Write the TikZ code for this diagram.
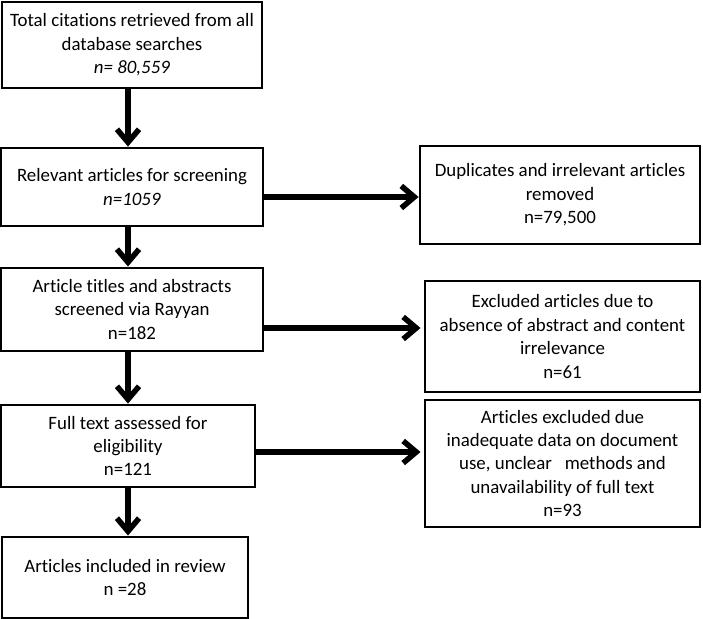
\documentclass[tikz,border=0pt]{standalone}
\usepackage{fontspec}
\setmainfont[Ligatures=NoCommon]{Carlito}
\usetikzlibrary{arrows.meta, positioning, calc}

\begin{document}
\begin{tikzpicture}[x=0.035cm, y=-0.035cm, >={Straight Barb[length=13pt,width=22pt]},
    box/.style={draw, line width=2.8pt, align=center, inner sep=0pt, font=\fontsize{18.8}{23.3}\selectfont},
    flow/.style={->, line width=5.5pt}]
    \useasboundingbox (0,0) rectangle (703,619);

    % left column
    \node[box, minimum width=9.10cm, minimum height=3.01cm] (tot) at (132,45)
        {Total citations retrieved from all\\ database searches\\ \textit{n= 80,559}};
    \node[box, minimum width=9.17cm, minimum height=2.73cm] (rel) at (132,187)
        {Relevant articles for screening\\ \textit{n=1059}};
    \node[box, minimum width=9.17cm, minimum height=2.91cm] (tit) at (132,309.5)
        {Article titles and abstracts\\ screened via Rayyan\\ n=182};
    \node[box, minimum width=8.89cm, minimum height=2.87cm] (ful) at (128,446)
        {Full text assessed for\\ eligibility\\ n=121};
    \node[box, minimum width=8.61cm, minimum height=2.84cm] (inc) at (125,577.5)
        {Articles included in review\\ n =28};

    % right column
    \node[box, minimum width=9.80cm, minimum height=3.43cm] (dup) at (560,195)
        {Duplicates and irrelevant articles\\ removed\\ n=79,500};
    \node[box, minimum width=9.63cm, minimum height=3.89cm] (exc) at (562.5,336.5)
        {Excluded articles due to\\ absence of abstract and content\\ irrelevance\\ n=61};
    \node[box, minimum width=9.63cm, minimum height=4.45cm] (aex) at (562.5,463.5)
        {Articles excluded due\\ inadequate data on document\\ use, unclear\ \ \ methods and\\ unavailability of full text\\ n=93};

    % arrows
    \coordinate (col) at (128,0);
    \draw[flow] (tot.south -| col) -- (rel.north -| col);
    \draw[flow] (rel.south -| col) -- (tit.north -| col);
    \draw[flow] (tit.south -| col) -- (ful.north -| col);
    \draw[flow] (ful.south -| col) -- (inc.north -| col);

    \draw[flow] (rel.east |- 0,197) -- (dup.west |- 0,197);
    \draw[flow, shorten >=3pt] (tit.east |- 0,328) -- (exc.west |- 0,328);
    \draw[flow, shorten >=3pt] (ful.east |- 0,452) -- (aex.west |- 0,452);
\end{tikzpicture}
\end{document}
